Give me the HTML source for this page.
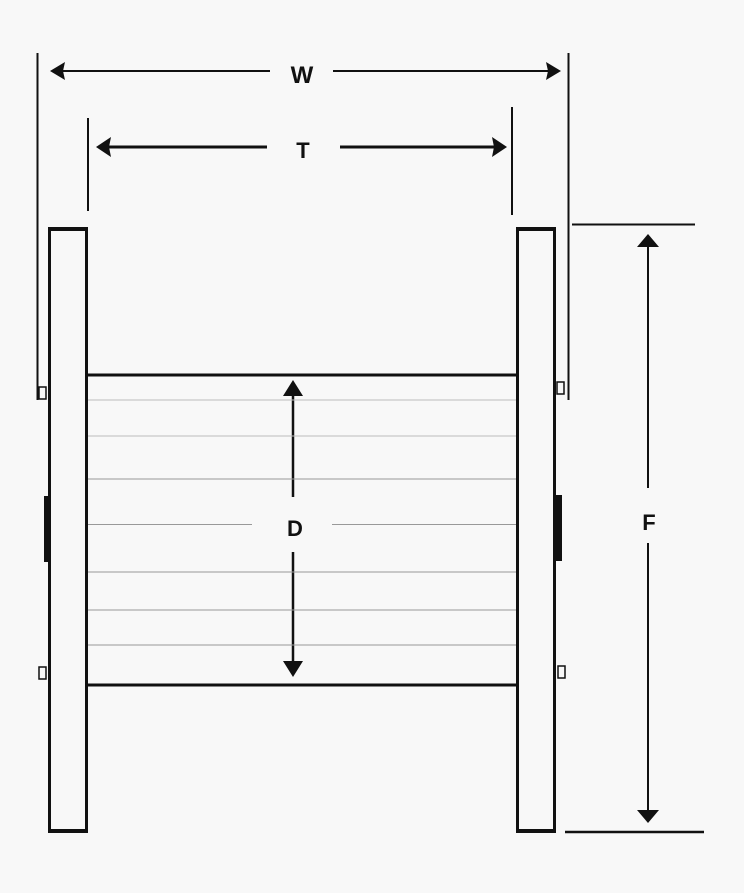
<!DOCTYPE html>
<html><head><meta charset="utf-8"><style>
html,body{margin:0;padding:0;background:#f8f8f8;}
svg{display:block}
text{font-family:"Liberation Sans",sans-serif;font-weight:bold;fill:#111;}
</style></head><body>
<svg width="744" height="893" viewBox="0 0 744 893" xmlns="http://www.w3.org/2000/svg">
<rect width="744" height="893" fill="#f8f8f8"/>
<g stroke="#111" fill="none">
<!-- extension lines -->
<line x1="37.5" y1="53" x2="37.5" y2="400" stroke-width="2"/>
<line x1="568.5" y1="53" x2="568.5" y2="400" stroke-width="2"/>
<line x1="88" y1="118" x2="88" y2="211" stroke-width="2"/>
<line x1="512" y1="107" x2="512" y2="215" stroke-width="2"/>
<line x1="572" y1="224.5" x2="695" y2="224.5" stroke-width="2"/>
<line x1="565" y1="832" x2="704" y2="832" stroke-width="2.5"/>
<!-- W -->
<line x1="60" y1="71" x2="270" y2="71" stroke-width="2"/>
<line x1="333" y1="71" x2="550" y2="71" stroke-width="2"/>
<!-- T -->
<line x1="105" y1="147" x2="267" y2="147" stroke-width="3"/>
<line x1="340" y1="147" x2="498" y2="147" stroke-width="3"/>
<!-- D -->
<line x1="293" y1="392" x2="293" y2="497" stroke-width="2.5"/>
<line x1="293" y1="552" x2="293" y2="665" stroke-width="2.5"/>
<!-- F -->
<line x1="648" y1="245" x2="648" y2="488" stroke-width="2"/>
<line x1="648" y1="543" x2="648" y2="812" stroke-width="2"/>
<!-- flanges -->
<rect x="49.5" y="229.5" width="37" height="602" stroke-width="3"/>
<rect x="517.5" y="229.5" width="37" height="602" stroke-width="3"/>
<line x1="48" y1="229" x2="88" y2="229" stroke-width="4"/>
<line x1="516" y1="229" x2="556" y2="229" stroke-width="4"/>
<line x1="48" y1="831" x2="88" y2="831" stroke-width="4"/>
<line x1="516" y1="831" x2="556" y2="831" stroke-width="4"/>
<!-- hub -->
<line x1="87" y1="375" x2="517" y2="375" stroke-width="3"/>
<line x1="87" y1="685" x2="517" y2="685" stroke-width="3"/>
<!-- small squares -->
<rect x="39" y="387" width="7" height="12" stroke-width="1.5"/>
<rect x="39" y="667" width="7" height="12" stroke-width="1.5"/>
<rect x="557" y="382" width="7" height="12" stroke-width="1.5"/>
<rect x="558" y="666" width="7" height="12" stroke-width="1.5"/>
</g>
<g stroke="#999" stroke-width="1">
<line x1="88" y1="400" x2="516" y2="400" stroke="#bbb"/>
<line x1="88" y1="436" x2="516" y2="436" stroke="#bbb"/>
<line x1="88" y1="479" x2="516" y2="479"/>
<line x1="88" y1="524.5" x2="252" y2="524.5"/>
<line x1="332" y1="524.5" x2="516" y2="524.5"/>
<line x1="88" y1="572" x2="516" y2="572"/>
<line x1="88" y1="610" x2="516" y2="610"/>
<line x1="88" y1="645" x2="516" y2="645"/>
</g>
<!-- dark bars -->
<rect x="44" y="496" width="5" height="66" fill="#111"/>
<rect x="556" y="495" width="6" height="66" fill="#111"/>
<!-- arrowheads -->
<g fill="#111">
<polygon points="50,71 65,62 63,71 65,80"/>
<polygon points="561,71 546,62 548,71 546,80"/>
<polygon points="96,147 111,137 109,147 111,157"/>
<polygon points="507,147 492,137 494,147 492,157"/>
<polygon points="293,380 283,396 303,396"/>
<polygon points="293,677 283,661 303,661"/>
<polygon points="648,234 637,247 659,247"/>
<polygon points="648,823 637,810 659,810"/>
</g>
<text x="302" y="83" font-size="24" text-anchor="middle">W</text>
<text x="303" y="158" font-size="22" text-anchor="middle">T</text>
<text x="295" y="536" font-size="22" text-anchor="middle">D</text>
<text x="649" y="530" font-size="22" text-anchor="middle">F</text>
</svg>
</body></html>
